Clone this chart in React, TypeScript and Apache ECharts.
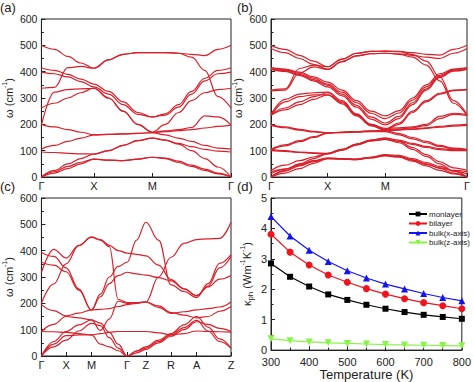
import React, { useEffect, useRef } from 'react';
import * as echarts from 'echarts';

const FONT = '"Liberation Sans", Arial, Helvetica, sans-serif';
const RED = '#d9202a';

// ---------- Panel (a): monolayer, path Γ-X-M-Γ ----------
const kA = [0, 0.069, 0.139, 0.208, 0.277, 0.354, 0.431, 0.508, 0.585, 0.654, 0.723, 0.792, 0.862, 0.931, 1];
const ticksA = [0, 0.277, 0.585, 1];
const labelsA = ['Γ', 'X', 'M', 'Γ'];
const a1 = [500, 485, 458, 433, 413, 445, 466, 472, 472, 472, 470, 466, 461, 485, 500];
const a2 = [337, 340, 415, 420, 413, 445, 466, 472, 472, 472, 470, 455, 405, 305, 262];
const a3 = [415, 405, 390, 372, 353, 325, 285, 245, 228, 240, 275, 325, 375, 405, 415];
const a4 = [398, 392, 380, 362, 342, 315, 275, 238, 228, 235, 265, 315, 365, 392, 398];
const a5 = [262, 280, 300, 320, 338, 300, 250, 200, 170, 200, 245, 290, 320, 332, 337];
const a6 = [197, 322, 332, 335, 336, 300, 250, 200, 170, 175, 180, 188, 232, 228, 197];
const a7 = [200, 190, 180, 170, 160, 162, 164, 166, 168, 172, 176, 180, 186, 192, 197];
const a8 = [106, 120, 135, 148, 160, 162, 164, 166, 168, 160, 148, 135, 120, 110, 106];
const a9 = [95, 93, 90, 88, 87, 100, 120, 138, 148, 140, 128, 115, 105, 98, 95];
const a10 = [0, 25, 50, 70, 87, 100, 120, 138, 148, 140, 125, 100, 70, 38, 0];
const a11 = [0, 20, 40, 56, 68, 64, 62, 68, 75, 72, 60, 45, 30, 15, 0];
const a12 = [0, 15, 32, 50, 68, 64, 62, 68, 75, 70, 55, 40, 25, 12, 0];
const bandsA = [a1, a2, a3, a4, a5, a6, a7, a8, a9, a10, a11, a12];

// ---------- Panel (b): bilayer, path Γ-X-M-Γ ----------
const kB = [0, 0.072, 0.145, 0.217, 0.289, 0.363, 0.436, 0.51, 0.583, 0.653, 0.722, 0.792, 0.861, 0.931, 1];
const ticksB = [0, 0.289, 0.583, 1];
const labelsB = ['Γ', 'X', 'M', 'Γ'];
const b1 = [500, 485, 462, 440, 419, 448, 470, 477, 478, 477, 472, 466, 463, 485, 500];
const b2 = [488, 472, 450, 428, 409, 438, 460, 468, 470, 468, 462, 455, 450, 470, 488];
const b3 = [330, 335, 412, 425, 419, 448, 470, 477, 478, 476, 465, 440, 380, 290, 237];
const b4 = [327, 330, 395, 418, 409, 438, 460, 468, 470, 466, 455, 425, 365, 280, 234];
const b5 = [415, 410, 398, 380, 360, 330, 290, 250, 232, 252, 300, 350, 392, 410, 415];
const b6 = [413, 407, 394, 375, 353, 322, 282, 242, 222, 243, 292, 342, 386, 407, 413];
const b7 = [411, 404, 390, 370, 348, 315, 272, 228, 205, 230, 282, 335, 382, 405, 411];
const b8 = [409, 401, 386, 365, 342, 308, 265, 220, 198, 222, 275, 330, 378, 402, 409];
const b9 = [237, 262, 285, 305, 320, 285, 238, 200, 182, 205, 250, 290, 318, 330, 333];
const b10 = [235, 255, 275, 295, 312, 278, 232, 195, 178, 200, 245, 285, 315, 328, 331];
const b11 = [237, 295, 315, 320, 322, 290, 240, 200, 185, 187, 190, 200, 230, 242, 237];
const b12 = [233, 285, 305, 312, 312, 282, 235, 195, 180, 183, 187, 195, 222, 238, 234];
const b13 = [200, 190, 181, 173, 168, 170, 172, 174, 178, 180, 183, 187, 192, 197, 200];
const b14 = [196, 187, 178, 171, 168, 170, 172, 174, 176, 178, 181, 185, 189, 193, 196];
const b15 = [105, 122, 138, 153, 168, 170, 172, 174, 176, 165, 150, 135, 120, 110, 105];
const b16 = [102, 118, 134, 150, 166, 168, 170, 172, 172, 160, 145, 130, 116, 107, 102];
const b17 = [105, 100, 95, 92, 90, 105, 125, 140, 148, 140, 128, 116, 108, 104, 103];
const b18 = [100, 97, 93, 90, 88, 102, 122, 137, 143, 136, 124, 112, 104, 100, 100];
const b19 = [25, 45, 62, 76, 90, 105, 125, 140, 148, 135, 112, 85, 58, 35, 25];
const b20 = [0, 25, 50, 70, 88, 102, 122, 137, 143, 130, 105, 78, 50, 22, 0];
const b21 = [12, 30, 48, 62, 72, 70, 68, 75, 85, 82, 70, 55, 40, 22, 12];
const b22 = [0, 22, 42, 58, 70, 68, 66, 73, 82, 78, 65, 50, 33, 15, 0];
const b23 = [20, 30, 45, 60, 72, 70, 68, 75, 82, 78, 64, 48, 35, 25, 20];
const b24 = [0, 15, 32, 52, 70, 68, 66, 73, 80, 75, 60, 42, 25, 12, 0];
const bandsB = [b1, b2, b3, b4, b5, b6, b7, b8, b9, b10, b11, b12, b13, b14, b15, b16, b17, b18, b19, b20, b21, b22, b23, b24];

// ---------- Panel (c): bulk, path Γ-X-M-Γ-Z-R-A-Z ----------
const kC = [0, 0.065, 0.13, 0.197, 0.264, 0.311, 0.358, 0.405, 0.452, 0.502, 0.551, 0.618, 0.684, 0.752, 0.819, 0.879, 0.94, 1];
const ticksC = [0, 0.13, 0.264, 0.452, 0.551, 0.684, 0.819, 1];
const labelsC = ['Γ', 'X', 'M', 'Γ', 'Z', 'R', 'A', 'Z'];
const c1 = [200, 274, 350, 419, 452, 442, 420, 400, 391, 386, 380, 345, 290, 255, 230, 265, 335, 378];
const c2 = [393, 378, 335, 255, 175, 235, 300, 340, 356, 440, 508, 440, 270, 245, 222, 275, 352, 385];
const c3 = [317, 405, 372, 420, 450, 440, 415, 215, 203, 203, 205, 300, 375, 428, 442, 445, 447, 508];
const c4 = [356, 345, 320, 250, 175, 225, 275, 305, 318, 312, 307, 298, 285, 255, 228, 262, 292, 306];
const c5 = [195, 172, 152, 163, 175, 177, 180, 188, 195, 200, 205, 185, 162, 168, 175, 180, 186, 205];
const c6 = [93, 120, 150, 145, 137, 97, 140, 208, 200, 202, 205, 190, 165, 155, 145, 150, 170, 188];
const c7 = [93, 92, 90, 85, 80, 85, 90, 93, 93, 93, 93, 88, 80, 85, 95, 93, 92, 91];
const c8 = [0, 45, 77, 80, 80, 45, 35, 20, 0, 18, 30, 55, 80, 108, 135, 95, 55, 29];
const c9 = [0, 55, 93, 118, 137, 125, 90, 45, 0, 20, 35, 60, 85, 118, 150, 110, 65, 29];
const c10 = [0, 35, 60, 95, 124, 115, 70, 30, 0, 12, 25, 50, 75, 100, 130, 120, 105, 93];
const bandsC = [c1, c2, c3, c4, c5, c6, c7, c8, c9, c10];

// ---------- Panel (d): thermal conductivity ----------
const temps = [300, 350, 400, 450, 500, 550, 600, 650, 700, 750, 800];
const monolayer = [2.85, 2.41, 2.09, 1.83, 1.65, 1.49, 1.36, 1.25, 1.16, 1.09, 1.03];
const bilayer = [3.81, 3.22, 2.8, 2.47, 2.23, 2.02, 1.84, 1.69, 1.56, 1.46, 1.36];
const bulkX = [4.39, 3.75, 3.28, 2.91, 2.61, 2.37, 2.17, 2.01, 1.86, 1.73, 1.62];
const bulkZ = [0.37, 0.31, 0.27, 0.24, 0.22, 0.2, 0.18, 0.17, 0.16, 0.15, 0.14];

const TRI_DOWN = 'path://M0,0 L10,0 L5,9 Z';

function bandSeries(k: number[], bands: number[][], idx: number) {
  return bands.map((b) => ({
    type: 'line',
    xAxisIndex: idx,
    yAxisIndex: idx,
    data: k.map((x, i) => [x, b[i]]),
    smooth: 0.4,
    smoothMonotone: 'x',
    symbol: 'none',
    silent: true,
    lineStyle: { color: RED, width: 1.2 },
    z: 3,
  }));
}

function bandX(idx: number, ticks: number[], labels: string[]) {
  return {
    type: 'value',
    gridIndex: idx,
    min: 0,
    max: 1,
    axisLine: { show: true, lineStyle: { color: '#222', width: 1 } },
    axisTick: { show: true, inside: true, length: 4, customValues: ticks, lineStyle: { color: '#222' } },
    axisLabel: {
      customValues: ticks,
      formatter: (v: number) => {
        const i = ticks.findIndex((t) => Math.abs(t - v) < 1e-6);
        return i >= 0 ? labels[i] : '';
      },
      fontSize: 11,
      lineHeight: 11,
      color: '#222',
      fontFamily: FONT,
      margin: 3,
    },
    splitLine: { show: false },
  };
}

function supName() {
  return {
    fontSize: 11,
    color: '#222',
    fontFamily: FONT,
    lineHeight: 15,
    rich: {
      n: { fontSize: 11, fontFamily: FONT, color: '#222', lineHeight: 15 },
      sup: { fontSize: 7, fontFamily: FONT, color: '#222', lineHeight: 8, verticalAlign: 'top' },
      sub: { fontSize: 8, fontFamily: FONT, color: '#222', lineHeight: 8, verticalAlign: 'bottom' },
    },
  };
}

function bandY(idx: number) {
  return {
    type: 'value',
    gridIndex: idx,
    min: 0,
    max: 600,
    interval: 100,
    name: '{n|ω (cm}{sup|-1}{n|)}',
    nameLocation: 'middle',
    nameGap: 18,
    nameRotate: 90,
    nameTextStyle: supName(),
    axisLine: { show: true, lineStyle: { color: '#222', width: 1 } },
    axisTick: { show: true, inside: true, length: 4, lineStyle: { color: '#222' } },
    minorTick: { show: true, splitNumber: 2, length: 2.5, lineStyle: { color: '#222' } },
    axisLabel: { fontSize: 10.5, lineHeight: 11, color: '#222', fontFamily: FONT, margin: 4 },
    splitLine: { show: false },
  };
}

const grids = [
  { left: 36, top: 19, width: 195, height: 158 },
  { left: 271, top: 19, width: 196, height: 158 },
  { left: 36, top: 198, width: 195, height: 158 },
  { left: 271, top: 198, width: 196, height: 158 },
].map((g) => ({ ...g, show: true, borderColor: '#222', borderWidth: 1, backgroundColor: 'transparent' }));

export default function App() {
  const ref = useRef<HTMLDivElement>(null);
  useEffect(() => {
    if (!ref.current) return;
    const chart = echarts.init(ref.current, undefined, { renderer: 'svg' });
    const pointSeries = (name: string, data: number[], color: string, symbol: string, size: number) => ({
      type: 'line',
      name,
      xAxisIndex: 3,
      yAxisIndex: 3,
      data: temps.map((t, i) => [t, data[i]]),
      symbol,
      symbolSize: size,
      lineStyle: { color, width: 1.2 },
      itemStyle: { color },
      z: 4,
    });
    const option: any = {
      animation: false,
      backgroundColor: '#fff',
      textStyle: { fontFamily: FONT },
      grid: grids,
      legend: {
        left: 403,
        top: 205,
        orient: 'vertical',
        itemWidth: 18,
        itemHeight: 6,
        itemGap: 1.5,
        textStyle: { fontSize: 8, color: '#222', fontFamily: FONT, padding: [0, 0, 0, -3] },
        data: ['monlayer', 'bilayer', 'bulk(x-axis)', 'bulk(z-axis)'],
      },
      xAxis: [
        bandX(0, ticksA, labelsA),
        bandX(1, ticksB, labelsB),
        bandX(2, ticksC, labelsC),
        {
          type: 'value',
          gridIndex: 3,
          min: 300,
          max: 800,
          interval: 100,
          name: 'Temperature (K)',
          nameLocation: 'middle',
          nameGap: 16,
          nameTextStyle: { fontSize: 13, color: '#222', fontFamily: FONT },
          axisLine: { show: true, lineStyle: { color: '#222', width: 1 } },
          axisTick: { show: true, inside: true, length: 4, lineStyle: { color: '#222' } },
          minorTick: { show: true, splitNumber: 2, length: 2.5, lineStyle: { color: '#222' } },
          axisLabel: { fontSize: 11, lineHeight: 11, color: '#222', fontFamily: FONT, margin: 6 },
          splitLine: { show: false },
        },
      ],
      yAxis: [
        bandY(0),
        bandY(1),
        bandY(2),
        {
          type: 'value',
          gridIndex: 3,
          min: 0,
          max: 5,
          interval: 1,
          name: '{n|κ}{sub|ph}{n| (Wm}{sup|-1}{n|K}{sup|-1}{n|)}',
          nameLocation: 'middle',
          nameGap: 17,
          nameRotate: 90,
          nameTextStyle: supName(),
          axisLine: { show: true, lineStyle: { color: '#222', width: 1 } },
          axisTick: { show: true, inside: true, length: 4, lineStyle: { color: '#222' } },
          minorTick: { show: true, splitNumber: 2, length: 2.5, lineStyle: { color: '#222' } },
          axisLabel: { fontSize: 11, lineHeight: 11, color: '#222', fontFamily: FONT, margin: 4 },
          splitLine: { show: false },
        },
      ],
      series: [
        ...bandSeries(kA, bandsA, 0),
        ...bandSeries(kB, bandsB, 1),
        ...bandSeries(kC, bandsC, 2),
        pointSeries('monlayer', monolayer, '#000000', 'rect', 6),
        pointSeries('bilayer', bilayer, '#f0141e', 'circle', 7),
        pointSeries('bulk(x-axis)', bulkX, '#1414f0', 'triangle', 7),
        pointSeries('bulk(z-axis)', bulkZ, '#86f545', TRI_DOWN, 7),
      ],
      graphic: [
        { type: 'text', left: 0, top: 1, style: { text: '(a)', fontSize: 13, fontFamily: FONT, fill: '#222' } },
        { type: 'text', left: 237, top: 1, style: { text: '(b)', fontSize: 13, fontFamily: FONT, fill: '#222' } },
        { type: 'text', left: 0, top: 180, style: { text: '(c)', fontSize: 13, fontFamily: FONT, fill: '#222' } },
        { type: 'text', left: 237, top: 180, style: { text: '(d)', fontSize: 13, fontFamily: FONT, fill: '#222' } },
      ],
    };
    chart.setOption(option);
    return () => chart.dispose();
  }, []);
  return <div ref={ref} style={{ position: 'fixed', left: 0, top: 0, width: 474, height: 382, background: '#fff' }} />;
}
